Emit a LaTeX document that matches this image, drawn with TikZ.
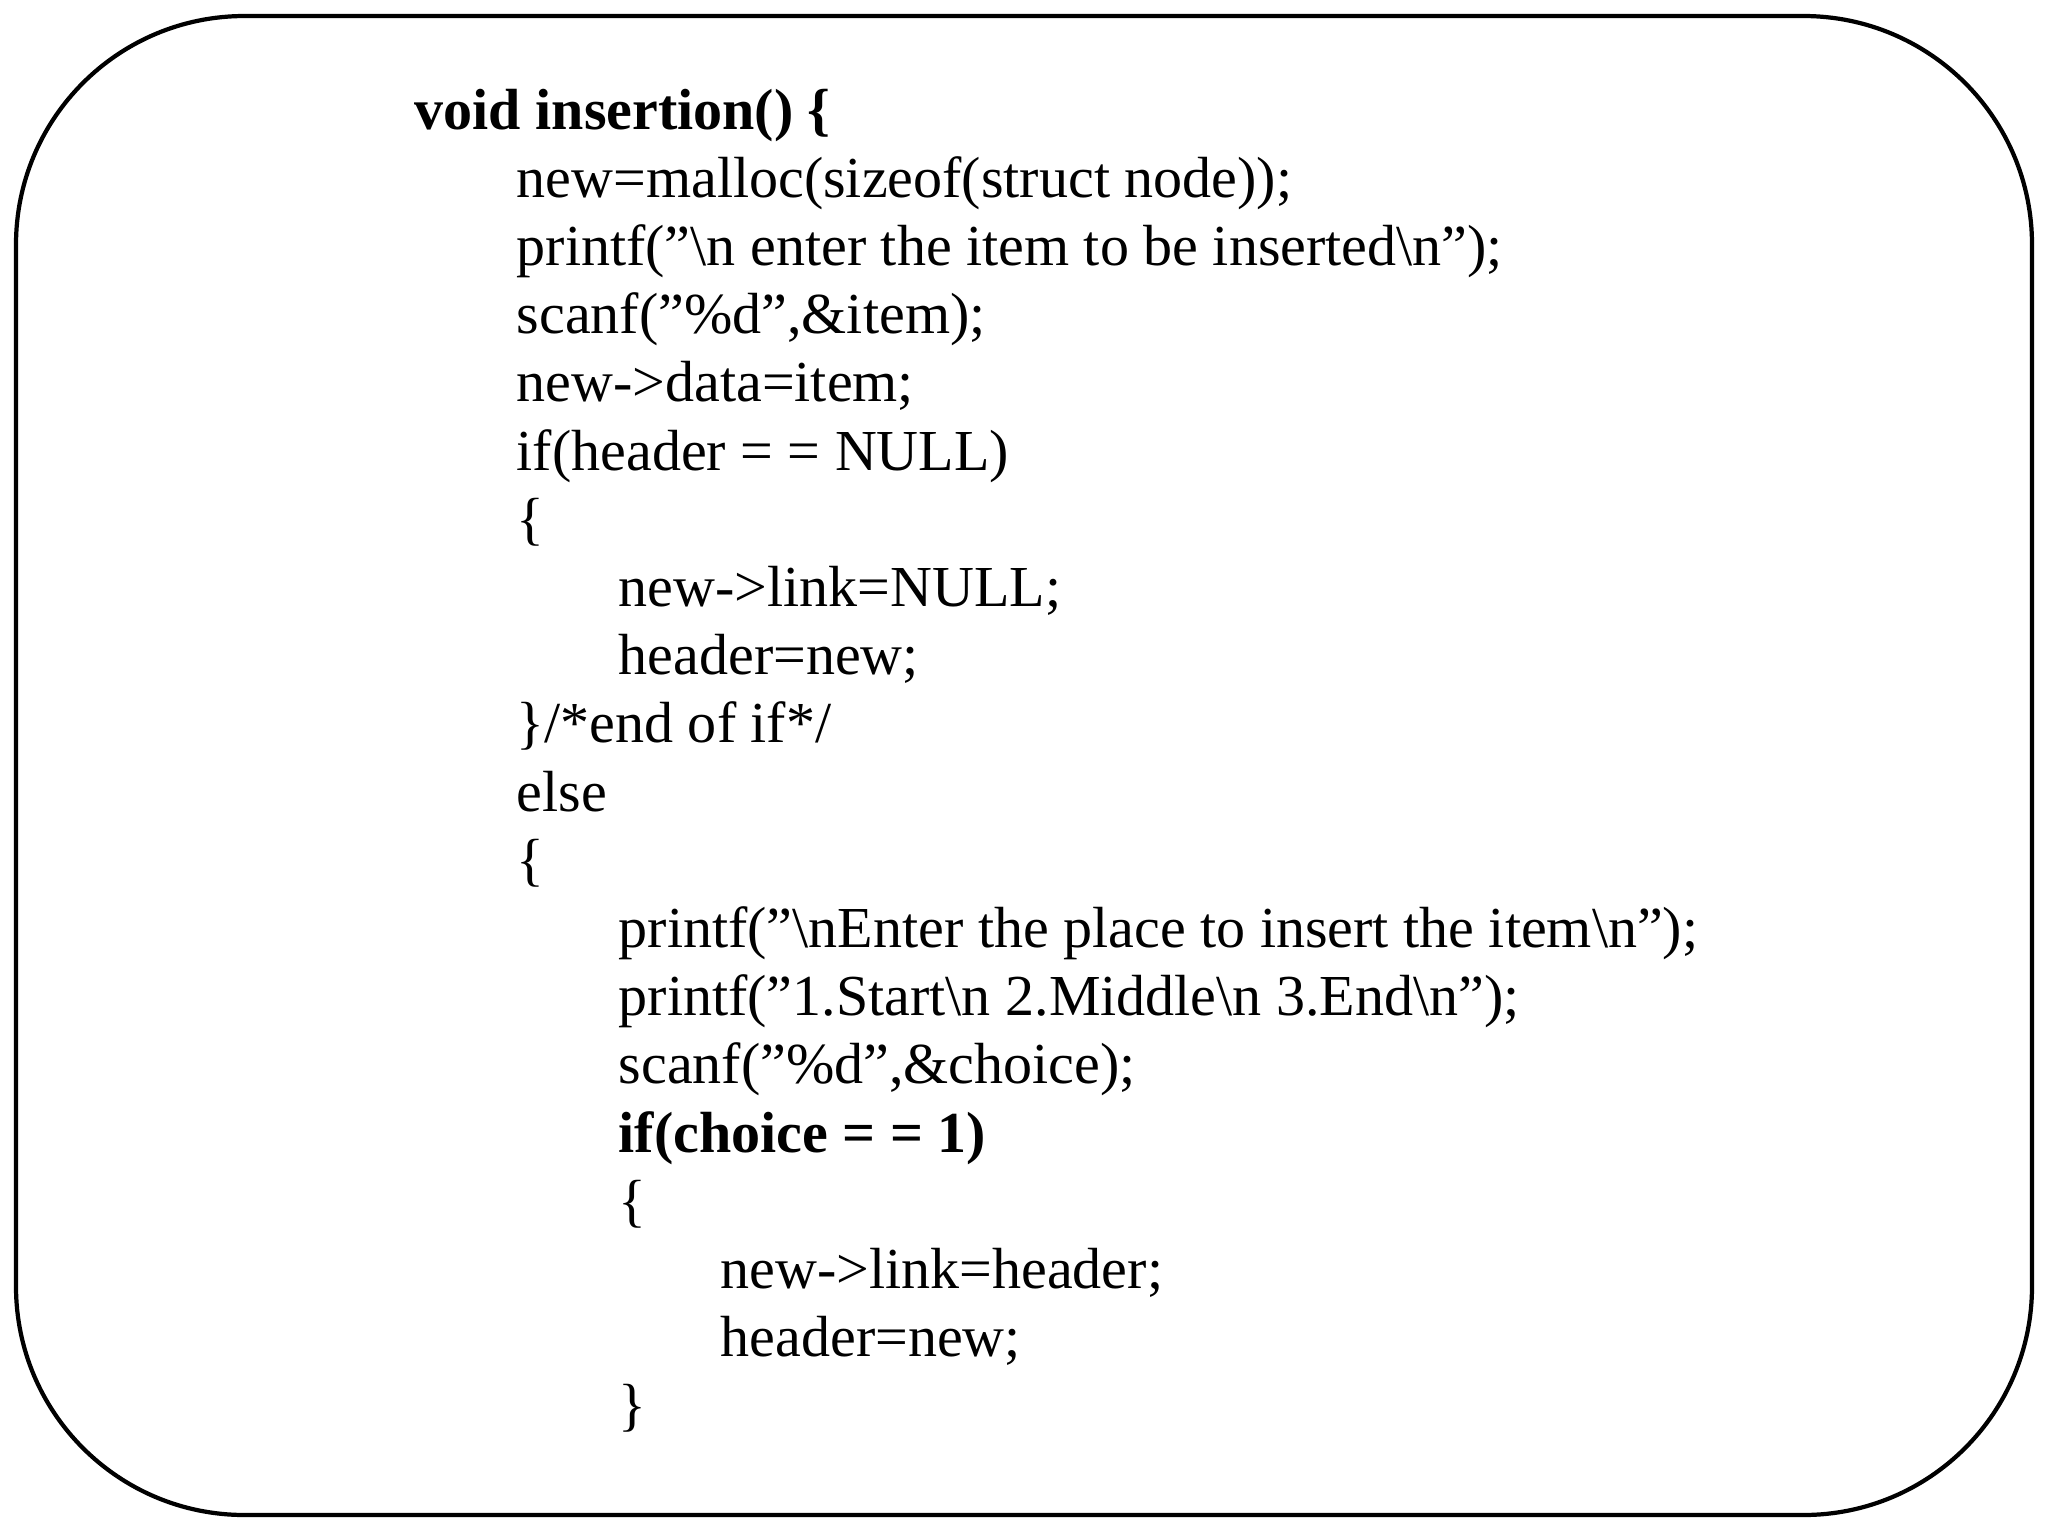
\documentclass[tikz,border=0pt]{standalone}
\usepackage{fontspec}
\setmainfont{Liberation Serif}
\begin{document}
\begin{tikzpicture}[x=0.01cm,y=-0.01cm,
  code/.style={anchor=base west,inner sep=0pt,font=\fontsize{16.5}{20}\selectfont}]
\useasboundingbox (0,0) rectangle (2048,1536);
\draw[line width=1.2pt,rounded corners=65] (16,16) rectangle (2032,1515);
\def\B{129}\def\S{68.2}
\node[code,font=\fontsize{16.5}{20}\selectfont\bfseries] (l1) at (414,\B) {void insertion() \{};
\node[code] (l2) at (516,\B+1*\S) {new=malloc(sizeof(struct node));};
\node[code] (l3) at (516,\B+2*\S) {printf("\textbackslash n enter the item to be inserted\textbackslash n");};
\node[code] (l4) at (516,\B+3*\S) {scanf("\%d",\&item);};
\node[code] (l5) at (516,\B+4*\S) {new->data=item;};
\node[code] (l6) at (516,\B+5*\S) {if(header = = NULL)};
\node[code] (l7) at (516,\B+6*\S) {\{};
\node[code] (l8) at (618,\B+7*\S) {new->link=NULL;};
\node[code] (l9) at (618,\B+8*\S) {header=new;};
\node[code] (l10) at (516,\B+9*\S) {\}/*end of if*/};
\node[code] (l11) at (516,\B+10*\S) {else};
\node[code] (l12) at (516,\B+11*\S) {\{};
\node[code] (l13) at (618,\B+12*\S) {printf("\textbackslash nEnter the place to insert the item\textbackslash n");};
\node[code] (l14) at (618,\B+13*\S) {printf("1.Start\textbackslash n 2.Middle\textbackslash n 3.End\textbackslash n");};
\node[code] (l15) at (618,\B+14*\S) {scanf("\%d",\&choice);};
\node[code,font=\fontsize{16.5}{20}\selectfont\bfseries] (l16) at (618,\B+15*\S) {if(choice = = 1)};
\node[code] (l17) at (618,\B+16*\S) {\{};
\node[code] (l18) at (720,\B+17*\S) {new->link=header;};
\node[code] (l19) at (720,\B+18*\S) {header=new;};
\node[code] (l20) at (618,\B+19*\S) {\}};
\end{tikzpicture}
\end{document}
